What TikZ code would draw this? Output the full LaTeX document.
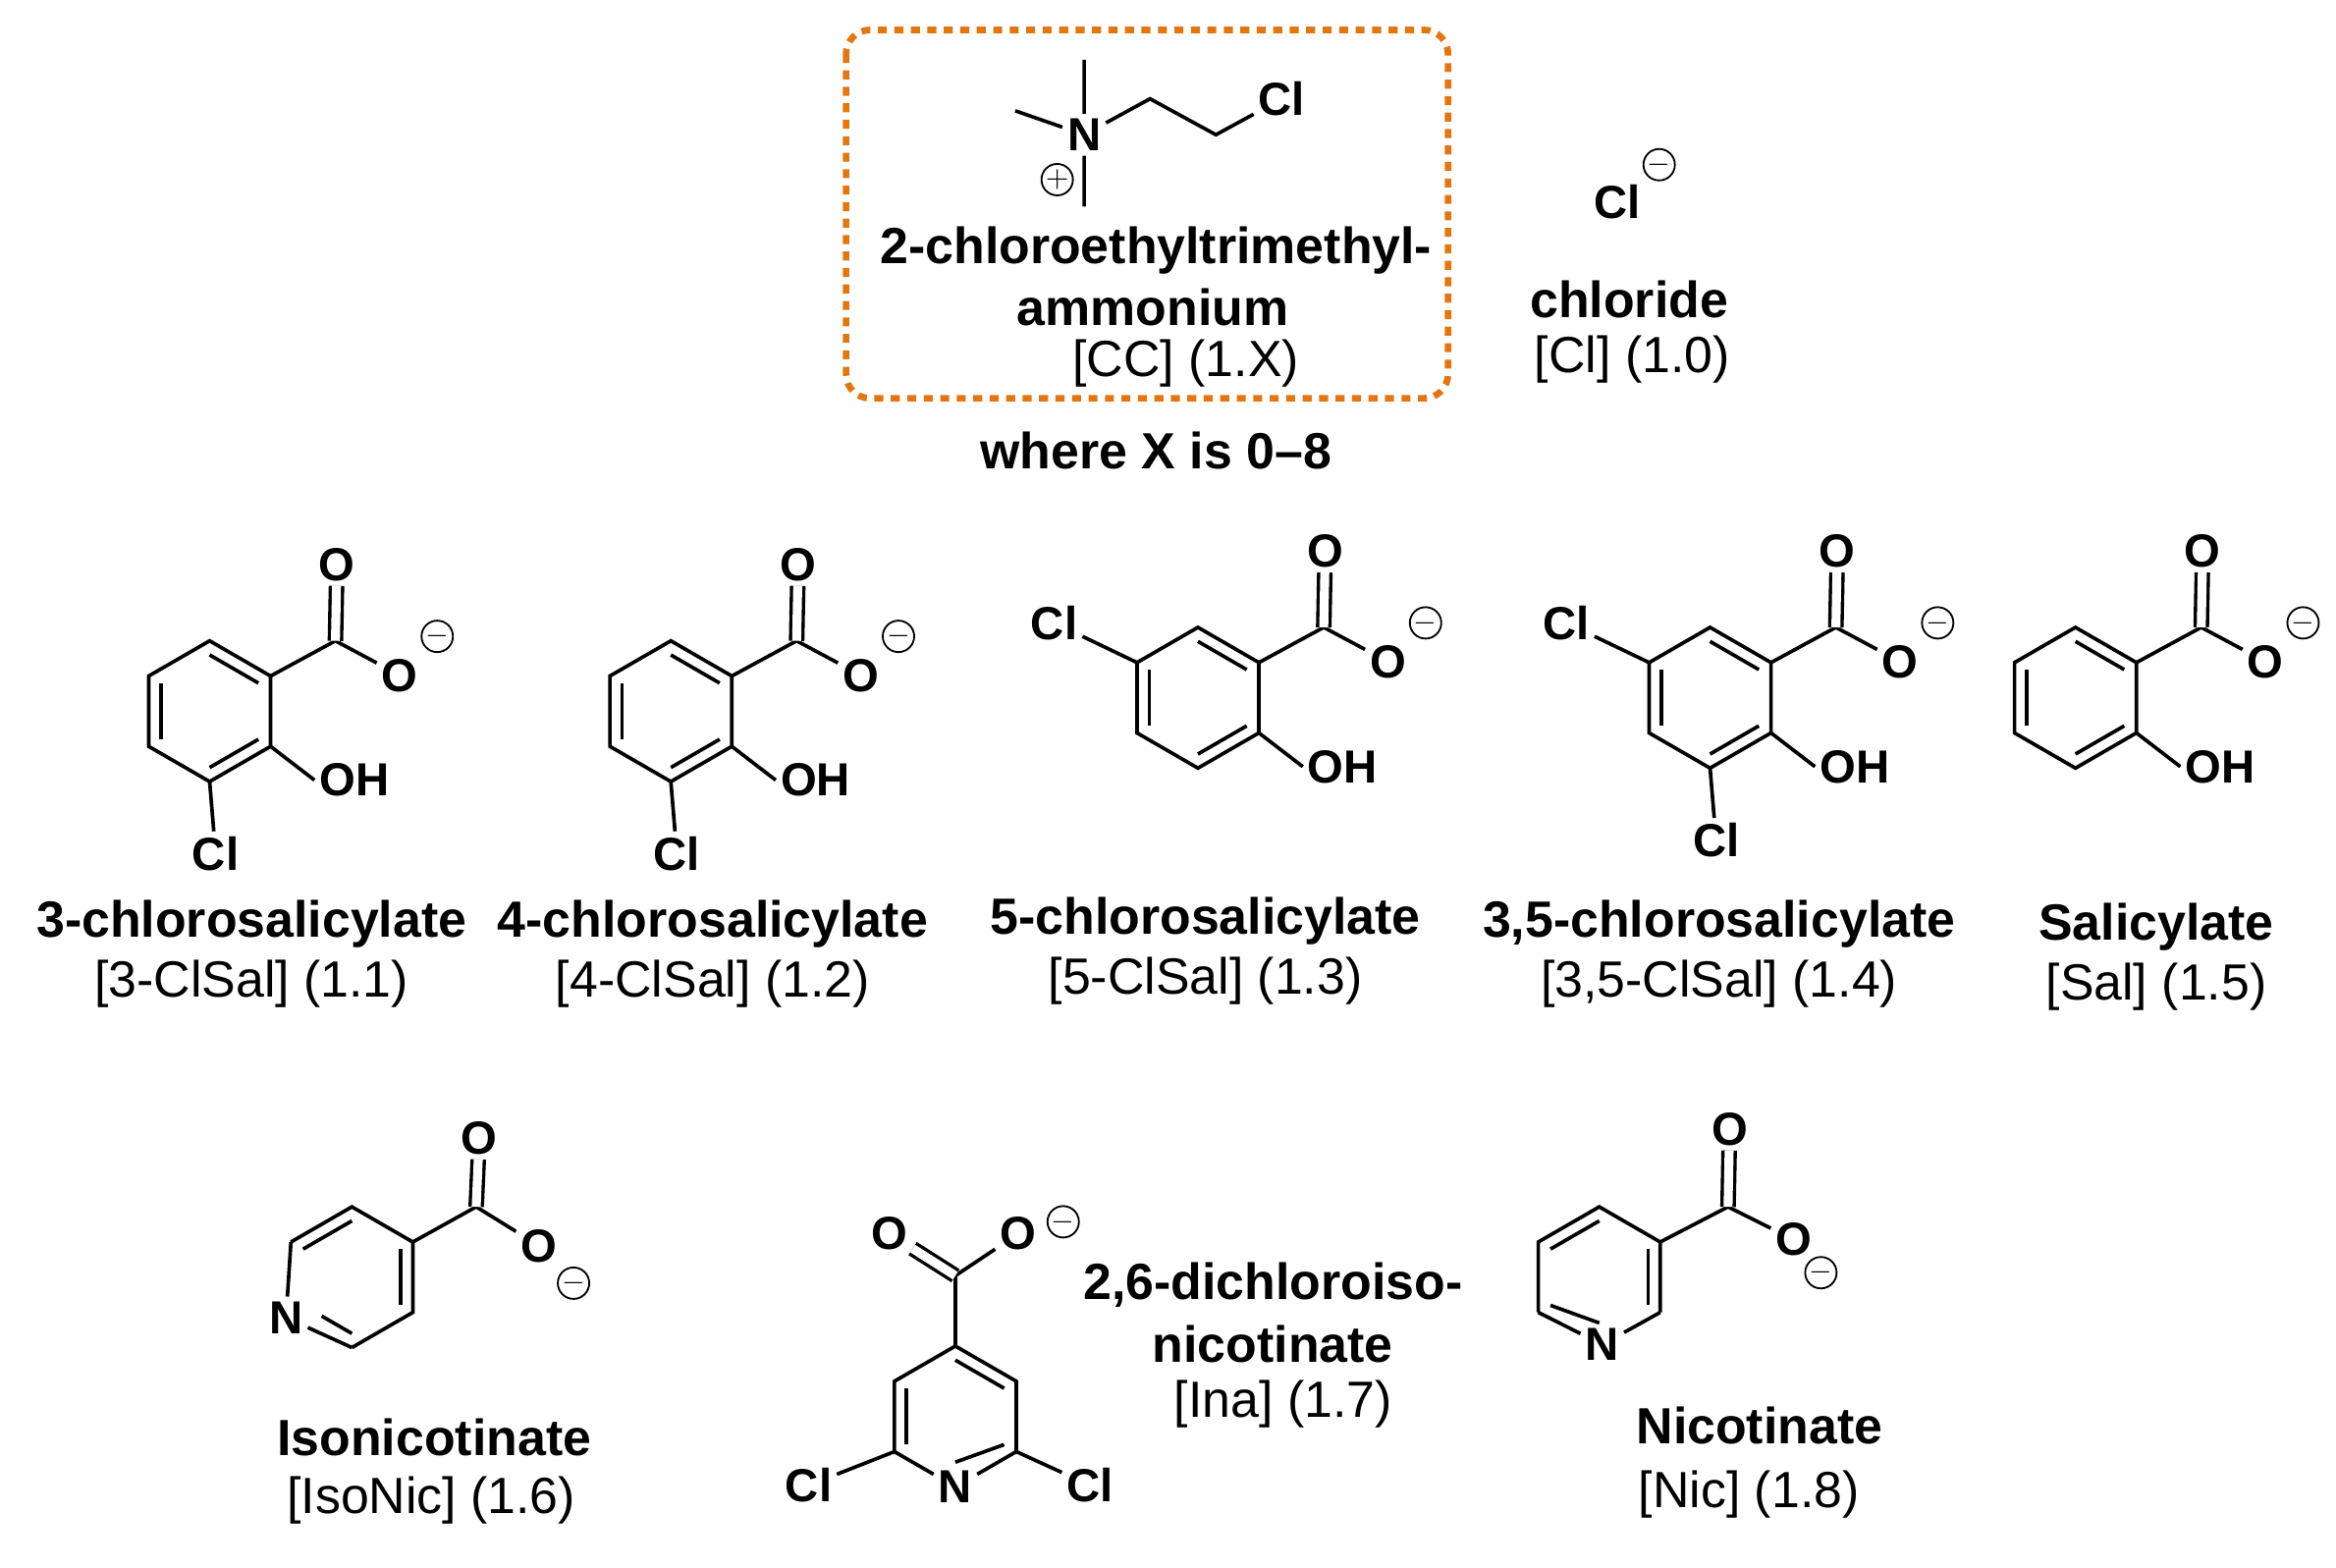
\documentclass[tikz,border=0pt]{standalone}
\usepackage{fontspec}
\setmainfont{Liberation Sans}
\usetikzlibrary{calc}
\newcommand\mkhex[3]{%
 \coordinate (#1c) at (#2,#3);
 \coordinate (#1t) at (#2,#3-47);
 \coordinate (#1tr) at (#2+40.7,#3-23.5);
 \coordinate (#1br) at (#2+40.7,#3+23.5);
 \coordinate (#1b) at (#2,#3+47);
 \coordinate (#1bl) at (#2-40.7,#3+23.5);
 \coordinate (#1tl) at (#2-40.7,#3-23.5);}
\newcommand\inb[3]{\draw[bond] ($(#1)!0.2!(#3)$) -- ($(#2)!0.2!(#3)$);}
\begin{document}
\begin{tikzpicture}[x=0.5pt,y=-0.5pt,
 bond/.style={line width=1.2pt},
 dbl/.style={double, double distance=3pt, line width=1.1pt},
 atom/.style={font=\bfseries\fontsize{15.5}{15.5}\selectfont, inner sep=1.5pt},
 chg/.style={circle, draw, line width=0.6pt, inner sep=0pt, minimum size=10.5pt, font=\fontsize{10}{10}\selectfont},
 nm/.style={font=\bfseries\fontsize{17}{18}\selectfont},
 ab/.style={font=\fontsize{17}{18}\selectfont}]
\useasboundingbox (0,0) rectangle (1560,1047);
% box
\draw[color={rgb,255:red,228;green,118;blue,18}, line width=2.2pt, dash pattern=on 3pt off 2.5pt, rounded corners=8pt] (565,20) rectangle (967,266);
% CC
\node[atom] (N) at (724,90) {N};
\node[atom] (ccl) at (856,66) {Cl};
\coordinate (m1) at (724,40); \coordinate (m2) at (678,74); \coordinate (m3) at (724,138);
\coordinate (e1) at (768,66); \coordinate (e2) at (812,90);
\draw[bond] (N)--(m1) (N)--(m2) (N)--(m3) (N)--(e1)--(e2)--(ccl);
\node[chg] (pl) at (706,120) {$+$};
\node[nm] (n1) at (772,167) {2-chloroethyltrimethyl-};
\node[nm] (n2) at (770,205) {ammonium};
\node[ab] (n3) at (792,243) {[CC] (1.X)};
\node[nm] (n4) at (772,301) {where X is 0–8};
% chloride
\node[atom] (cl0) at (1080,135) {Cl};
\node[chg] (m0) at (1108,110) {$-$};
\node[nm] (c1) at (1088,200) {chloride};
\node[ab] (c2) at (1090,240) {[Cl] (1.0)};
\foreach \p/\cx/\cy/\L/\B in {a/140/475/0/1, b/448/475/0/1, c/800/466/1/0, d/1142/466/1/1, e/1386/466/0/0}{
 \mkhex{\p}{\cx}{\cy}
 \draw[bond] (\p t)--(\p tr)--(\p br)--(\p b)--(\p bl)--(\p tl)--cycle;
 \inb{\p bl}{\p tl}{\p c}\inb{\p t}{\p tr}{\p c}\inb{\p br}{\p b}{\p c}
 \coordinate (\p C) at (\cx+84,\cy-47);
 \node[atom] (\p O) at (\cx+85,\cy-98) {O};
 \node[atom] (\p Om) at (\cx+127,\cy-24) {O};
 \node[chg] (\p ch) at (\cx+152,\cy-50) {$-$};
 \node[atom,anchor=west] (\p OH) at (\cx+70,\cy+46) {OH};
 \draw[bond] (\p tr)--(\p C)--(\p Om);
 \draw[dbl] (\p C)--(\p O);
 \draw[bond] (\p br)--(\p OH.west);
 \ifnum\L=1 \node[atom] (\p Cl) at (\cx-96,\cy-50) {Cl}; \draw[bond] (\p tl)--(\p Cl); \fi
 \ifnum\B=1 \node[atom] (\p Clb) at (\cx+4,\cy+95) {Cl}; \draw[bond] (\p b)--(\p Clb); \fi
}
\node[nm] at (168,617) {3-chlorosalicylate};
\node[ab] at (168,657) {[3-ClSal] (1.1)};
\node[nm] at (476,617) {4-chlorosalicylate};
\node[ab] at (476,657) {[4-ClSal] (1.2)};
\node[nm] at (805,615) {5-chlorosalicylate};
\node[ab] at (805,655) {[5-ClSal] (1.3)};
\node[nm] at (1148,617) {3,5-chlorosalicylate};
\node[ab] at (1148,657) {[3,5-ClSal] (1.4)};
\node[nm] at (1440,619) {Salicylate};
\node[ab] at (1440,659) {[Sal] (1.5)};
% isonicotinate
\mkhex{f}{235}{853}
\node[atom] (fN) at (191,880) {N};
\draw[bond] (ftl)--(ft)--(ftr)--(fbr)--(fb);
\draw[bond] (fb)--(fN); \draw[bond] (fN)--(ftl);
\inb{ftl}{ft}{fc}\inb{ftr}{fbr}{fc}
\draw[bond] ($(fb)!0.2!(fc)$)--($($(fb)!0.62!(fbl)$)!0.2!(fc)$);
\coordinate (fC) at (318,806);
\node[atom] (fO) at (320,760) {O};
\node[atom] (fOm) at (360,832) {O};
\node[chg] at (383,857) {$-$};
\draw[bond] (ftr)--(fC)--(fOm); \draw[dbl] (fC)--(fO);
\node[nm] at (290,960) {Isonicotinate};
\node[ab] at (288,1002) {[IsoNic] (1.6)};
% dichloroisonicotinate
\mkhex{g}{638}{946}
\node[atom] (gN) at (638,993) {N};
\draw[bond] (gbl)--(gtl)--(gt)--(gtr)--(gbr);
\draw[bond] (gbr)--(gN); \draw[bond] (gN)--(gbl);
\inb{gbl}{gtl}{gc}\inb{gt}{gtr}{gc}
\draw[bond] ($(gbr)!0.2!(gc)$)--($(gb)!0.35!(gc)$);
\node[atom] (gCl1) at (728,992) {Cl}; \node[atom] (gCl2) at (540,992) {Cl};
\draw[bond] (gbr)--(gCl1); \draw[bond] (gbl)--(gCl2);
\coordinate (gC) at (638,852);
\node[atom] (gO) at (594,824) {O};
\node[atom] (gOm) at (680,824) {O};
\node[chg] at (710,816) {$-$};
\draw[bond] (gt)--(gC)--(gOm); \draw[dbl] (gC)--(gO);
\node[nm] at (850,858) {2,6-dichloroiso-};
\node[nm] at (850,898) {nicotinate};
\node[ab] at (857,938) {[Ina] (1.7)};
% nicotinate
\mkhex{h}{1068}{853}
\node[atom] (hN) at (1070,898) {N};
\draw[bond] (hbl)--(htl)--(ht)--(htr)--(hbr);
\draw[bond] (hbr)--(hN); \draw[bond] (hN)--(hbl);
\inb{htl}{ht}{hc}\inb{htr}{hbr}{hc}
\draw[bond] ($(hbl)!0.2!(hc)$)--($(hb)!0.35!(hc)$);
\coordinate (hC) at (1154,806);
\node[atom] (hO) at (1155,754) {O};
\node[atom] (hOm) at (1198,828) {O};
\node[chg] at (1216,850) {$-$};
\draw[bond] (htr)--(hC)--(hOm); \draw[dbl] (hC)--(hO);
\node[nm] at (1175,952) {Nicotinate};
\node[ab] at (1168,998) {[Nic] (1.8)};
\end{tikzpicture}
\end{document}
